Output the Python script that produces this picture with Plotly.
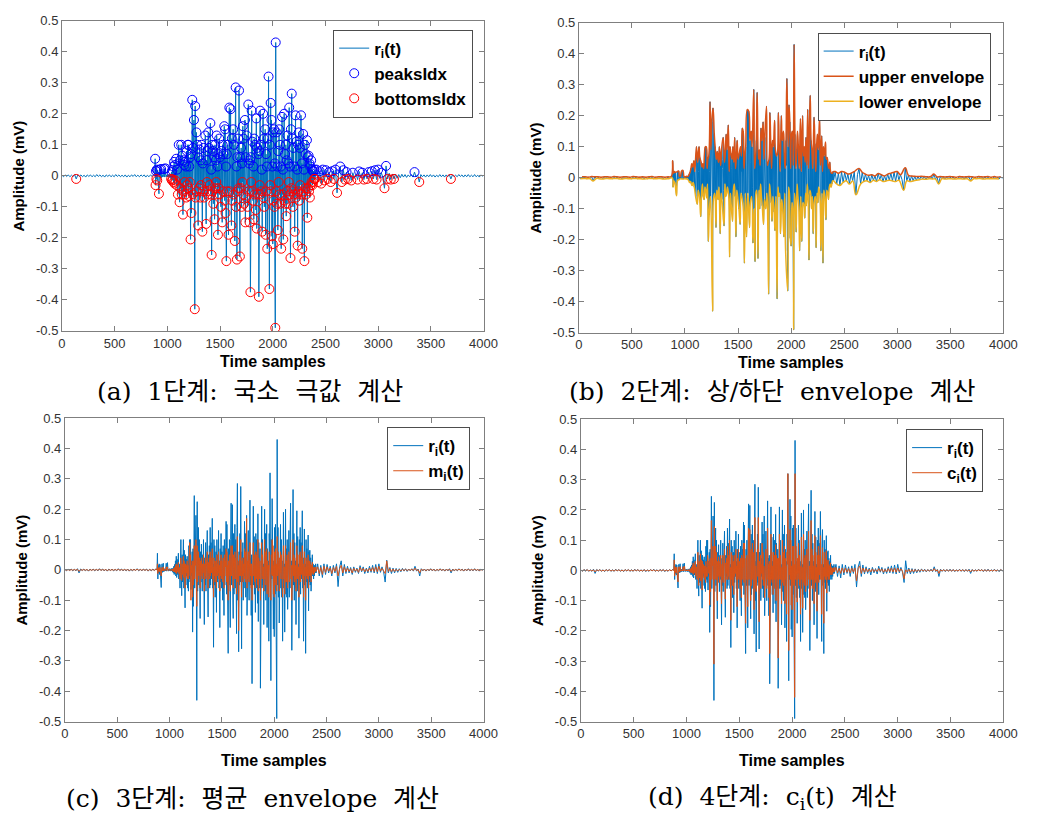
import numpy as np
import plotly.graph_objects as go

# ---------------------------------------------------------------------------
# Sample index grids (time samples) for the recorded segment
# ---------------------------------------------------------------------------
pre_idx = np.arange(0, 871, 15)       # resting part before the burst
act_idx = np.arange(880, 2397, 4)     # muscle activity burst
post_idx = np.arange(2400, 3991, 15)  # resting part after the burst

# ---------------------------------------------------------------------------
# r_i(t): residual signal (mV)
# ---------------------------------------------------------------------------
r_pre = [
    0.002, -0.003, 0.003, -0.002, 0.003, -0.003, 0.002, -0.003, 0.004, -0.010,
    0.003, -0.002, 0.003, -0.003, 0.002, -0.004, 0.003, -0.002, 0.003, -0.003,
    0.002, -0.003, 0.004, -0.002, 0.003, -0.003, 0.002, -0.004, 0.003, -0.002,
    0.003, -0.003, 0.002, -0.003, 0.004, -0.002, 0.003, -0.003, 0.002, -0.003,
    0.003, -0.004, 0.002, -0.003, 0.003, -0.002, 0.004, -0.003, 0.002, -0.003,
    0.003, -0.002, 0.003, -0.004, 0.002, -0.003, 0.003, -0.002, 0.004,
]

r_act = [
    # 880
    0.0, 0.055, -0.03, 0.015, -0.01, 0.02, -0.015, 0.018, -0.01, -0.03,
    -0.058, 0.0, 0.02, -0.008, 0.012, 0.022, -0.006, 0.004, -0.004, 0.004,
    -0.003, 0.005, 0.022, -0.004, 0.004,
    # 980
    0.024, 0.002, -0.004, 0.003, -0.002, 0.004, -0.003, 0.002, -0.004, 0.005,
    -0.003, 0.004, -0.006, 0.006, -0.01, 0.012, -0.015, 0.018, -0.012, 0.03,
    -0.02, 0.045, -0.025, 0.035, -0.015,
    # 1080
    0.02, 0.055, -0.03, 0.02, -0.01, -0.06, 0.03, 0.1, -0.02, -0.085,
    0.05, -0.04, 0.02, 0.1, -0.06, 0.065, -0.03, -0.125, 0.05, -0.05,
    0.035, -0.02, 0.045, -0.06, 0.03,
    # 1180
    -0.07, 0.08, -0.03, 0.1, -0.04, 0.1, -0.065, 0.03, -0.02, 0.06,
    -0.205, 0.07, -0.12, 0.02, 0.245, -0.06, 0.09, 0.03, 0.18, -0.05,
    -0.43, 0.225, -0.07, 0.04, 0.14,
    # 1280
    -0.05, 0.1, -0.02, -0.16, 0.06, -0.04, 0.085, 0.02, -0.07, 0.05,
    -0.03, 0.1, -0.02, -0.18, 0.04, -0.05, 0.09, -0.07, 0.03, 0.06,
    0.13, -0.04, -0.155, 0.05, -0.02,
    # 1380
    0.08, -0.06, 0.14, -0.05, 0.09, -0.03, 0.04, 0.17, -0.06, 0.02,
    -0.255, 0.1, -0.05, 0.08, -0.09, 0.03, 0.06, -0.14, 0.1, -0.04,
    0.05, -0.02, 0.13, -0.06, 0.03,
    # 1480
    -0.19, 0.07, -0.04, 0.12, -0.06, 0.06, -0.03, -0.1, 0.08, -0.02,
    -0.15, 0.1, -0.05, 0.07, 0.02, 0.16, -0.08, 0.15, -0.12, 0.03,
    -0.275, 0.07, -0.05, 0.1, -0.03,
    # 1580
    -0.19, 0.1, 0.22, -0.05, 0.04, 0.215, -0.07, -0.16, 0.12, -0.08,
    0.05, 0.15, -0.06, 0.1, -0.03, -0.21, 0.14, 0.285, -0.1, 0.03,
    -0.27, 0.06, -0.05, 0.12, -0.04,
    # 1680
    0.275, -0.08, -0.26, 0.06, -0.04, 0.09, -0.1, 0.04, -0.02, 0.16,
    -0.06, 0.12, -0.09, 0.03, 0.18, -0.15, 0.06, -0.07, 0.13, -0.03,
    -0.1, 0.05, 0.23, -0.05, 0.04,
    # 1780
    -0.15, 0.05, -0.375, 0.06, -0.02, 0.21, -0.05, 0.11, -0.08, 0.03,
    -0.14, 0.12, -0.06, 0.1, -0.02, -0.11, 0.185, -0.17, 0.09, -0.06,
    0.03, 0.07, -0.39, 0.08, -0.03,
    # 1880
    0.21, -0.06, 0.1, -0.05, 0.02, -0.18, 0.08, 0.2, -0.07, 0.12,
    -0.1, 0.04, 0.15, -0.19, 0.07, -0.05, 0.03, -0.235, 0.12, 0.04,
    0.32, -0.1, -0.365, 0.1, -0.03,
    # 1980
    0.235, -0.05, 0.18, -0.195, 0.03, -0.22, 0.14, -0.08, 0.15, -0.1,
    0.04, -0.49, 0.43, -0.05, 0.14, -0.09, 0.03, -0.175, 0.08, -0.02,
    0.15, -0.06, 0.1, -0.09, 0.03,
    # 2080
    -0.235, 0.08, 0.19, -0.06, 0.02, -0.205, 0.12, 0.2, -0.08, 0.07,
    -0.09, 0.1, -0.13, 0.05, -0.05, 0.13, -0.09, 0.04, -0.02, 0.22,
    -0.06, 0.03, -0.265, 0.15, -0.04,
    # 2180
    0.265, -0.05, 0.12, -0.1, 0.09, -0.06, 0.03, -0.18, 0.08, 0.195,
    -0.07, 0.11, -0.06, 0.02, -0.225, 0.1, -0.05, 0.14, -0.08, 0.09,
    -0.03, 0.06, 0.195, -0.06, 0.04,
    # 2280
    -0.235, 0.09, 0.135, -0.05, 0.02, -0.275, 0.1, -0.04, 0.07, -0.06,
    0.03, 0.115, -0.135, 0.06, -0.04, 0.065, -0.05, 0.04, -0.07, 0.03,
    -0.03, 0.05, -0.02, 0.02, -0.03,
    # 2380
    0.015, -0.02, 0.015, -0.01, 0.02,
]

r_post = [
    -0.01, 0.02, -0.02, 0.015, -0.025, 0.02, -0.015, 0.018, -0.01, 0.012,
    -0.02, 0.015, -0.01, 0.02, -0.055, 0.01, 0.03, -0.02, 0.018, -0.012,
    0.012, -0.01, 0.008, -0.015, 0.01, -0.008, 0.006, -0.012, 0.014, -0.006,
    0.01, -0.012, 0.006, -0.01, 0.012, -0.008, 0.015, -0.01, 0.018, -0.012,
    0.02, -0.008, 0.01, -0.006, -0.04, 0.032, -0.01, 0.008, -0.012, 0.006,
    -0.01, 0.005, -0.008, 0.004, -0.006, 0.005, -0.004, 0.004, -0.005, 0.003,
    -0.003, 0.004, -0.004, 0.012, -0.004, 0.003, -0.02, 0.004, -0.003, 0.003,
    -0.004, 0.003, -0.003, 0.004, -0.003, 0.003, -0.004, 0.002, -0.003, 0.004,
    -0.003, 0.003, -0.004, 0.003, -0.003, 0.004, -0.01, 0.003, -0.003, 0.002,
    -0.003, 0.004, -0.002, 0.003, -0.004, 0.003, -0.003, 0.004, -0.003, 0.002,
    -0.003, 0.004, -0.003, 0.002, -0.004, 0.003, -0.002,
]

# ---------------------------------------------------------------------------
# m_i(t): mean of the upper and lower envelopes (mV), same sample grid
# ---------------------------------------------------------------------------
m_pre = [
    0.001, -0.001, 0.001, -0.001, 0.001, -0.001, 0.001, -0.001, 0.002, -0.005,
    0.001, -0.001, 0.001, -0.001, 0.001, -0.002, 0.001, -0.001, 0.001, -0.001,
    0.001, -0.001, 0.002, -0.001, 0.001, -0.001, 0.001, -0.002, 0.001, -0.001,
    0.001, -0.001, 0.001, -0.001, 0.002, -0.001, 0.001, -0.001, 0.001, -0.001,
    0.001, -0.002, 0.001, -0.001, 0.001, -0.001, 0.002, -0.001, 0.001, -0.001,
    0.001, -0.001, 0.001, -0.002, 0.001, -0.001, 0.001, -0.001, 0.002,
]

m_act = [
    # 880
    0.0, 0.02, -0.012, 0.006, -0.004, 0.008, -0.006, 0.008, -0.004, -0.012,
    -0.02, 0.0, 0.008, -0.003, 0.005, 0.01, -0.003, 0.002, -0.002, 0.002,
    -0.001, 0.002, 0.01, -0.002, 0.002,
    # 980
    0.01, 0.001, -0.002, 0.001, -0.001, 0.002, -0.001, 0.001, -0.002, 0.002,
    -0.001, 0.002, -0.003, 0.003, -0.005, 0.006, -0.007, 0.008, -0.005, 0.014,
    -0.01, 0.02, -0.012, 0.016, -0.007,
    # 1080
    0.008, 0.025, -0.012, 0.008, -0.004, -0.03, 0.012, 0.04, -0.008, -0.035,
    0.02, -0.015, 0.008, 0.045, -0.025, 0.03, -0.012, -0.06, 0.02, -0.025,
    0.015, -0.01, 0.03, -0.03, 0.015,
    # 1180
    -0.03, 0.05, -0.01, 0.09, -0.02, 0.05, -0.1, 0.015, -0.01, 0.03,
    -0.09, 0.03, -0.05, 0.01, 0.08, -0.03, 0.05, 0.015, 0.1, -0.02,
    -0.12, 0.08, -0.04, 0.02, 0.06,
    # 1280
    -0.02, 0.04, -0.01, -0.06, 0.03, -0.02, 0.04, 0.01, -0.03, 0.02,
    -0.01, 0.05, -0.01, -0.07, 0.02, -0.02, 0.04, -0.03, 0.015, 0.03,
    0.06, -0.02, -0.06, 0.025, -0.01,
    # 1380
    0.04, -0.03, 0.06, -0.02, 0.04, -0.01, 0.02, 0.07, -0.03, 0.01,
    -0.09, 0.04, -0.02, 0.03, -0.04, 0.015, 0.03, -0.06, 0.05, -0.02,
    0.02, -0.01, 0.06, -0.03, 0.015,
    # 1480
    -0.07, 0.03, -0.02, 0.05, -0.03, 0.03, -0.015, -0.04, 0.04, -0.01,
    -0.06, 0.05, -0.02, 0.03, 0.01, 0.07, -0.04, 0.06, -0.05, 0.015,
    -0.1, 0.03, -0.02, 0.05, -0.015,
    # 1580
    -0.07, 0.04, 0.08, -0.02, 0.02, 0.08, -0.03, -0.06, 0.05, -0.03,
    0.02, 0.06, -0.03, 0.04, -0.015, -0.08, 0.05, 0.11, -0.04, 0.015,
    -0.2, 0.03, -0.02, 0.05, -0.02,
    # 1680
    0.1, -0.03, -0.09, 0.03, -0.02, 0.04, -0.04, 0.02, -0.01, 0.07,
    -0.03, 0.06, -0.04, 0.015, 0.17, -0.06, 0.03, -0.03, 0.06, -0.015,
    -0.04, 0.02, 0.09, -0.02, 0.02,
    # 1780
    -0.06, 0.02, -0.1, 0.03, -0.01, 0.09, -0.02, 0.05, -0.04, 0.015,
    -0.06, 0.06, -0.03, 0.05, -0.01, -0.05, 0.1, -0.07, 0.04, -0.03,
    0.015, 0.03, -0.1, 0.04, -0.015,
    # 1880
    0.09, -0.03, 0.05, -0.02, 0.01, -0.07, 0.04, 0.1, -0.03, 0.06,
    -0.05, 0.02, 0.07, -0.08, 0.03, -0.02, 0.015, -0.09, 0.06, 0.02,
    0.0, -0.05, -0.1, 0.05, -0.015,
    # 1980
    0.1, -0.02, 0.08, -0.08, 0.015, -0.09, 0.06, -0.04, 0.07, -0.05,
    0.02, -0.07, 0.11, -0.02, 0.06, -0.04, 0.015, -0.07, 0.04, -0.01,
    0.06, -0.03, 0.05, -0.04, 0.015,
    # 2080
    -0.09, 0.04, 0.08, -0.03, 0.01, -0.08, 0.05, 0.08, -0.04, 0.03,
    -0.04, 0.05, -0.06, 0.02, -0.02, 0.06, -0.04, 0.02, -0.01, 0.09,
    -0.03, 0.015, -0.1, 0.06, -0.02,
    # 2180
    0.1, -0.02, 0.05, -0.04, 0.04, -0.03, 0.015, -0.07, 0.04, 0.08,
    -0.03, 0.05, -0.03, 0.01, -0.09, 0.05, -0.02, 0.06, -0.04, 0.04,
    -0.015, 0.03, 0.08, -0.03, 0.02,
    # 2280
    -0.09, 0.04, 0.06, -0.02, 0.01, -0.1, 0.04, -0.02, 0.03, -0.03,
    0.015, 0.05, -0.06, 0.03, -0.02, 0.03, -0.02, 0.02, -0.04, 0.015,
    -0.015, 0.025, -0.01, 0.01, -0.015,
    # 2380
    0.008, -0.01, 0.008, -0.005, 0.01,
]

m_post = [
    -0.005, 0.01, -0.012, 0.008, -0.015, 0.012, -0.008, 0.01, -0.004, 0.006,
    -0.012, 0.008, -0.005, 0.012, -0.02, 0.004, 0.015, -0.01, 0.01, -0.006,
    0.006, -0.005, 0.004, -0.01, 0.005, -0.004, 0.003, -0.008, 0.008, -0.003,
    0.005, -0.006, 0.003, -0.005, 0.006, -0.004, 0.008, -0.005, 0.01, -0.006,
    0.012, -0.004, 0.005, -0.003, -0.012, 0.03, -0.005, 0.004, -0.006, 0.003,
    -0.005, 0.002, -0.004, 0.002, -0.003, 0.002, -0.002, 0.002, -0.002, 0.001,
    -0.001, 0.002, -0.002, 0.006, -0.002, 0.001, -0.01, 0.002, -0.001, 0.001,
    -0.002, 0.001, -0.001, 0.002, -0.001, 0.001, -0.002, 0.001, -0.001, 0.002,
    -0.001, 0.001, -0.002, 0.001, -0.001, 0.002, -0.005, 0.001, -0.001, 0.001,
    -0.001, 0.002, -0.001, 0.001, -0.002, 0.001, -0.001, 0.002, -0.001, 0.001,
    -0.001, 0.002, -0.001, 0.001, -0.002, 0.001, -0.001,
]

assert len(r_pre) == len(pre_idx) == len(m_pre)
assert len(r_act) == len(act_idx) == len(m_act)
assert len(r_post) == len(post_idx) == len(m_post)

t = np.concatenate([pre_idx, act_idx, post_idx])
r = np.array(r_pre + r_act + r_post)
m = np.array(m_pre + m_act + m_post)
c = r - m  # c_i(t) = r_i(t) - m_i(t)

# Axis ticks
x_ticks = [0, 500, 1000, 1500, 2000, 2500, 3000, 3500, 4000]
y_ticks = [-0.5, -0.4, -0.3, -0.2, -0.1, 0, 0.1, 0.2, 0.3, 0.4, 0.5]
y_tick_text = ["-0.5", "-0.4", "-0.3", "-0.2", "-0.1", "0",
               "0.1", "0.2", "0.3", "0.4", "0.5"]

GAP = "\u00a0\u00a0"
captions = [
    GAP.join(["(a)", "1단계:", "국소", "극값", "계산"]),
    GAP.join(["(b)", "2단계:", "상/하단", "envelope", "계산"]),
    GAP.join(["(c)", "3단계:", "평균", "envelope", "계산"]),
    GAP.join(["(d)", "4단계:", "c<sub>i</sub>(t)", "계산"]),
]


def local_extrema(values, kind, level=0.0):
    """Indices of local maxima/minima; optionally only beyond +/- level."""
    d = np.diff(values)
    if kind == "max":
        idx = np.where((d[:-1] > 0) & (d[1:] <= 0))[0] + 1
        idx = idx[values[idx] >= level]
    else:
        idx = np.where((d[:-1] < 0) & (d[1:] >= 0))[0] + 1
        idx = idx[values[idx] <= -level]
    return idx


peaks_idx = local_extrema(r, "max", 0.009)
bottoms_idx = local_extrema(r, "min", 0.009)
up_idx = local_extrema(r, "max")
lo_idx = local_extrema(r, "min")

BLUE = "#0072BD"
ORANGE = "#D95319"
YELLOW = "#EDB120"

W, H = 1039, 813
FONT = "Liberation Sans, Arial, sans-serif"
CAP_FONT = "DejaVu Serif, Noto Sans CJK KR, serif"

# plot-area boxes in pixels: (left, right, top, bottom)
boxes = [
    (59, 488, 14, 330),
    (585, 1017, 16, 332),
    (62, 488, 419, 728),
    (587, 1017, 420, 728),
]
xtitle_y = [361, 362, 768, 768]
legend_boxes = [(335, 23), (828, 26), (390, 428), (918, 430)]  # left, top
caption_pos = [(250, 392), (782, 392), (253, 806), (782, 806)]

fig = go.Figure()

# (a) local extrema
fig.add_trace(go.Scatter(x=t, y=r, mode="lines", name="r<sub>i</sub>(t)",
                         line=dict(color=BLUE, width=1), legend="legend",
                         xaxis="x", yaxis="y"))
fig.add_trace(go.Scatter(x=t[peaks_idx], y=r[peaks_idx], mode="markers",
                         name="peaksIdx", legend="legend",
                         marker=dict(symbol="circle-open", size=9,
                                     color="blue", line=dict(width=1)),
                         xaxis="x", yaxis="y"))
fig.add_trace(go.Scatter(x=t[bottoms_idx], y=r[bottoms_idx], mode="markers",
                         name="bottomsIdx", legend="legend",
                         marker=dict(symbol="circle-open", size=9,
                                     color="red", line=dict(width=1)),
                         xaxis="x", yaxis="y"))

# (b) upper / lower envelopes (smooth curves through the extrema)
fig.add_trace(go.Scatter(x=t, y=r, mode="lines", name="r<sub>i</sub>(t)",
                         line=dict(color=BLUE, width=1), legend="legend2",
                         xaxis="x2", yaxis="y2"))
fig.add_trace(go.Scatter(x=t[up_idx], y=r[up_idx], mode="lines",
                         name="upper envelope", legend="legend2",
                         line=dict(color=ORANGE, width=1.5, shape="spline",
                                   smoothing=1.3),
                         xaxis="x2", yaxis="y2"))
fig.add_trace(go.Scatter(x=t[lo_idx], y=r[lo_idx], mode="lines",
                         name="lower envelope", legend="legend2",
                         line=dict(color=YELLOW, width=1.5, shape="spline",
                                   smoothing=1.3),
                         xaxis="x2", yaxis="y2"))

# (c) mean envelope
fig.add_trace(go.Scatter(x=t, y=r, mode="lines", name="r<sub>i</sub>(t)",
                         line=dict(color=BLUE, width=1), legend="legend3",
                         xaxis="x3", yaxis="y3"))
fig.add_trace(go.Scatter(x=t, y=m, mode="lines", name="m<sub>i</sub>(t)",
                         line=dict(color=ORANGE, width=1), legend="legend3",
                         xaxis="x3", yaxis="y3"))

# (d) candidate component
fig.add_trace(go.Scatter(x=t, y=r, mode="lines", name="r<sub>i</sub>(t)",
                         line=dict(color=BLUE, width=1), legend="legend4",
                         xaxis="x4", yaxis="y4"))
fig.add_trace(go.Scatter(x=t, y=c, mode="lines", name="c<sub>i</sub>(t)",
                         line=dict(color=ORANGE, width=1), legend="legend4",
                         xaxis="x4", yaxis="y4"))

layout = dict(
    width=W, height=H,
    margin=dict(l=0, r=0, t=0, b=0),
    paper_bgcolor="white", plot_bgcolor="white",
    font=dict(family=FONT, color="#262626"),
    annotations=[],
)

axis_common = dict(showgrid=False, zeroline=False, showline=True,
                   linecolor="#7f7f7f", linewidth=1, mirror="ticks",
                   ticks="inside", ticklen=5, tickcolor="#7f7f7f",
                   tickfont=dict(size=13, color="#333333", family=FONT))

for k, (l, rgt, top, bot) in enumerate(boxes):
    sfx = "" if k == 0 else str(k + 1)
    layout["xaxis" + sfx] = dict(axis_common, domain=[l / W, rgt / W],
                                 range=[0, 4000], tickvals=x_ticks,
                                 anchor="y" + sfx)
    layout["yaxis" + sfx] = dict(axis_common,
                                 domain=[1 - bot / H, 1 - top / H],
                                 range=[-0.5, 0.5], tickvals=y_ticks,
                                 ticktext=y_tick_text, anchor="x" + sfx)
    lx, ly = legend_boxes[k]
    layout["legend" + sfx] = dict(
        x=lx / W, y=1 - ly / H, xanchor="left", yanchor="top",
        xref="paper", yref="paper",
        bgcolor="white", bordercolor="#4d4d4d", borderwidth=1,
        font=dict(size=17, family=FONT, color="black", weight="bold"),
        itemwidth=30, tracegroupgap=0,
    )
    # y-axis title
    layout["annotations"].append(dict(
        text="<b>Amplitude (mV)</b>", x=(l - 44) / W,
        y=1 - (top + bot) / 2 / H,
        xref="paper", yref="paper", showarrow=False, textangle=-90,
        xanchor="center", yanchor="middle",
        font=dict(size=15, family=FONT, color="black")))
    # x-axis title
    layout["annotations"].append(dict(
        text="<b>Time samples</b>", x=(l + rgt) / 2 / W,
        y=1 - xtitle_y[k] / H,
        xref="paper", yref="paper", showarrow=False,
        xanchor="center", yanchor="middle",
        font=dict(size=16, family=FONT, color="black")))

for cap, (cx, cy) in zip(captions, caption_pos):
    layout["annotations"].append(dict(
        text=cap, x=cx / W, y=1 - cy / H, xref="paper", yref="paper",
        showarrow=False, xanchor="center", yanchor="middle",
        font=dict(size=25, family=CAP_FONT, color="black")))

fig.update_layout(**layout)
fig.write_html("out.html")
